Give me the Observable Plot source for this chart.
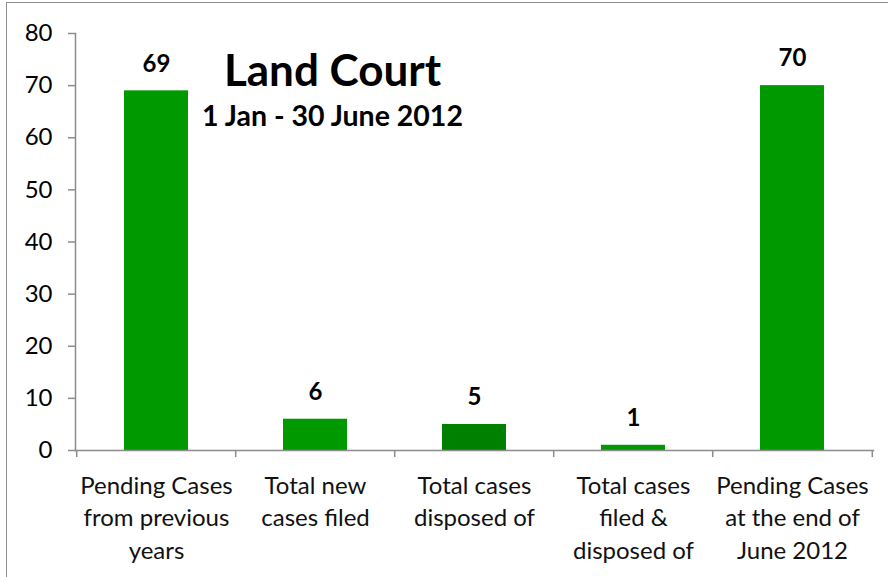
<!DOCTYPE html>
<html>
<head>
<meta charset="utf-8">
<script src="https://cdn.jsdelivr.net/npm/d3@7"></script>
<script src="https://cdn.jsdelivr.net/npm/@observablehq/plot@0.6"></script>
<style>
  html, body { margin: 0; padding: 0; background: #fff; }
  #wrap { position: relative; width: 888px; height: 577px; overflow: hidden; }
  #border { position: absolute; left: 6px; top: 2px; width: 900px; height: 600px;
            border-left: 1.5px solid #8c8c8c; border-top: 1.5px solid #8c8c8c; box-sizing: border-box; pointer-events: none; }
  #chart { position: absolute; left: 0; top: 0; }
</style>
</head>
<body>
<div id="wrap"><div id="chart"></div><div id="border"></div></div>
<script>
const categories = [
  "Pending Cases\nfrom previous\nyears",
  "Total new\ncases filed",
  "Total cases\ndisposed of",
  "Total cases\nfiled &\ndisposed of",
  "Pending Cases\nat the end of\nJune 2012"
];
const values = [69, 6, 5, 1, 70];
const yTicks = [0, 10, 20, 30, 40, 50, 60, 70, 80];
const title = "Land Court";
const subtitle = "1 Jan - 30 June 2012";

const data = categories.map((c, i) => ({category: c, value: values[i]}));

const W = 888, H = 577, mL = 75, mR = 15, mT = 33, mB = 127;
const step = (W - mL - mR) / categories.length;
const font = "Lato, 'Open Sans', sans-serif";
const axisColor = "#8c8c8c";
const fillFor = (d) => d.category === categories[2] ? "#008000" : "#009900";

const chart = Plot.plot({
  width: W, height: H,
  marginLeft: mL, marginRight: mR, marginTop: mT, marginBottom: mB,
  style: {fontFamily: font, background: "transparent", overflow: "visible"},
  x: {domain: categories, paddingInner: 0.6, paddingOuter: 0.3, axis: null},
  y: {domain: [0, 80], axis: null},
  marks: [
    Plot.barY(data, {x: "category", y: "value", fill: fillFor}),
    Plot.text(data, {x: "category", y: "value", text: d => String(d.value), dy: -27,
      fontSize: 24, fontWeight: "bold", fill: "#000"}),
    // axis lines
    Plot.frame({anchor: "left", stroke: axisColor, strokeWidth: 1.5}),
    Plot.frame({anchor: "bottom", stroke: axisColor, strokeWidth: 1.5}),
    // y ticks and labels
    Plot.axisY(yTicks, {tickSize: 7, tickPadding: 16, fontSize: 24, stroke: axisColor, strokeWidth: 1.5,
      label: null, fill: "#000"}),
    // x category boundary ticks
    Plot.ruleX(categories, {x: d => d, y1: 0, y2: -1.35, dx: -step / 2, stroke: axisColor, strokeWidth: 1.5}),
    Plot.ruleX([categories[categories.length - 1]], {x: d => d, y1: 0, y2: -1.35, dx: step / 2, stroke: axisColor, strokeWidth: 1.5}),
    // x labels
    Plot.text(categories, {x: d => d, y: 0, text: d => d, lineAnchor: "top", dy: 21, lineHeight: 1.34,
      fontSize: 24, fill: "#111"}),
    // titles
    Plot.text([title], {frameAnchor: "top-left", dx: 257, dy: 21, text: d => d, textAnchor: "middle",
      fontSize: 44, fontWeight: "bold", fill: "#000"}),
    Plot.text([subtitle], {frameAnchor: "top-left", dx: 257, dy: 72, text: d => d, textAnchor: "middle",
      fontSize: 28.5, fontWeight: "bold", fill: "#000"})
  ]
});
document.getElementById("chart").appendChild(chart);
</script>
</body>
</html>
